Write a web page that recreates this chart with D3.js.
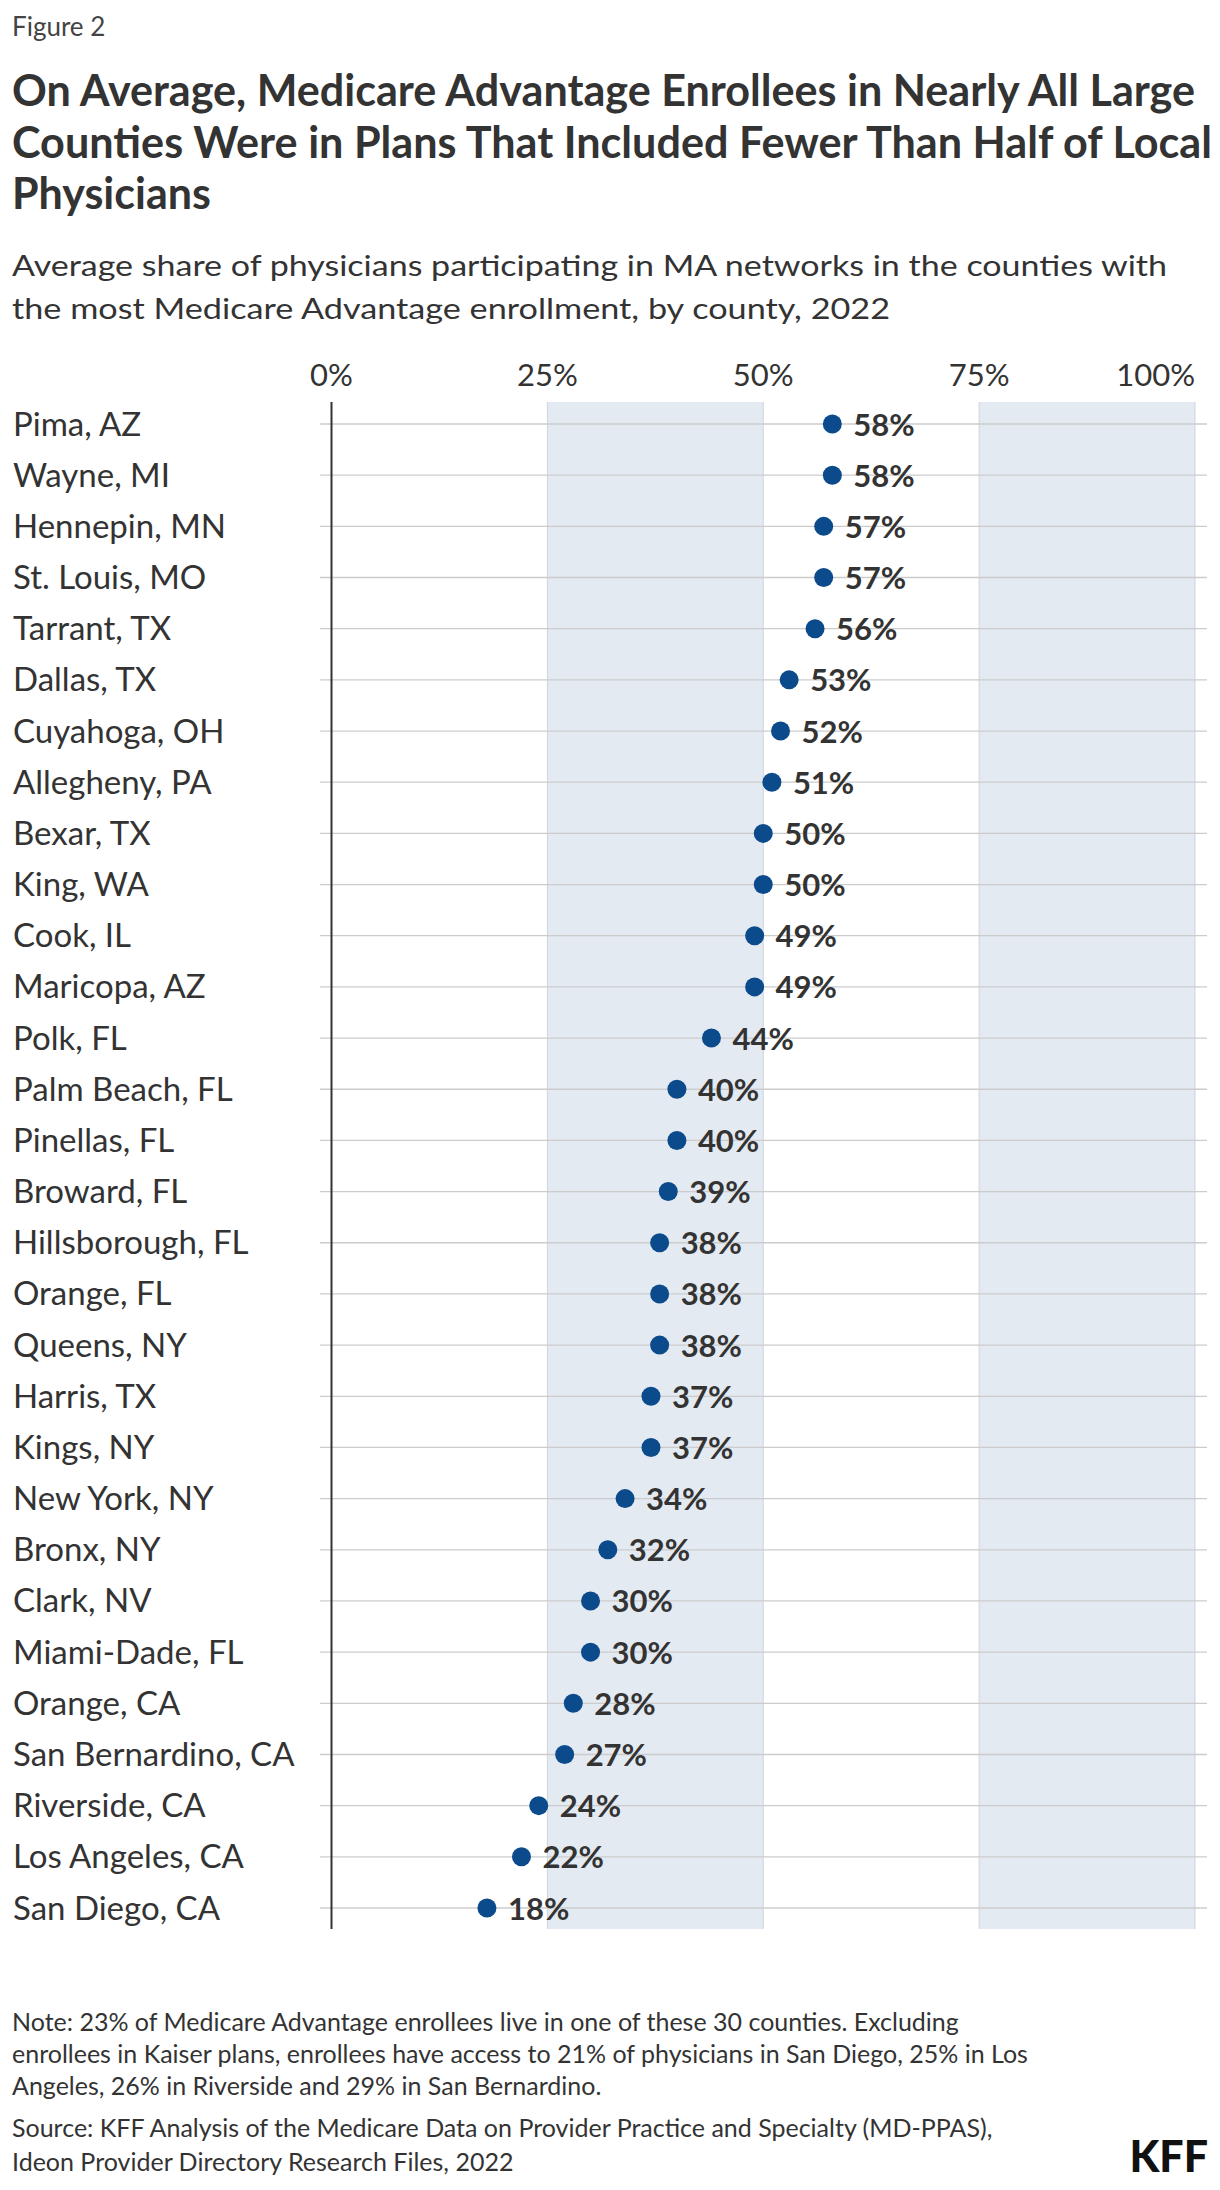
<!DOCTYPE html>
<html><head><meta charset="utf-8">
<script src="https://cdn.jsdelivr.net/npm/d3@7"></script>
<style>
body{margin:0;background:#fff}
svg{display:block}
text{font-family:Lato,"Noto Sans",sans-serif}
</style>
</head><body>
<svg id="chart" width="1220" height="2190"></svg>
<script>
const counties = ["Pima, AZ","Wayne, MI","Hennepin, MN","St. Louis, MO","Tarrant, TX","Dallas, TX","Cuyahoga, OH","Allegheny, PA","Bexar, TX","King, WA","Cook, IL","Maricopa, AZ","Polk, FL","Palm Beach, FL","Pinellas, FL","Broward, FL","Hillsborough, FL","Orange, FL","Queens, NY","Harris, TX","Kings, NY","New York, NY","Bronx, NY","Clark, NV","Miami-Dade, FL","Orange, CA","San Bernardino, CA","Riverside, CA","Los Angeles, CA","San Diego, CA"];
const values = [58,58,57,57,56,53,52,51,50,50,49,49,44,40,40,39,38,38,38,37,37,34,32,30,30,28,27,24,22,18];
const tickValues = [0,25,50,75,100];
const tickLabels = ["0%","25%","50%","75%","100%"];
const shadedRanges = [[25,50],[75,100]];
const figureLabel = "Figure 2";
const titleLines = ["On Average, Medicare Advantage Enrollees in Nearly All Large","Counties Were in Plans That Included Fewer Than Half of Local","Physicians"];
const subtitleLines = ["Average share of physicians participating in MA networks in the counties with","the most Medicare Advantage enrollment, by county, 2022"];
const noteLines = ["Note: 23% of Medicare Advantage enrollees live in one of these 30 counties. Excluding","enrollees in Kaiser plans, enrollees have access to 21% of physicians in San Diego, 25% in Los","Angeles, 26% in Riverside and 29% in San Bernardino."];
const sourceLines = ["Source: KFF Analysis of the Medicare Data on Provider Practice and Specialty (MD-PPAS),","Ideon Provider Directory Research Files, 2022"];
const logoText = "KFF";

const svg = d3.select("#chart");
const textColor = "#333333";
const dotColor = "#0b4a8b";

// Header
svg.append("text").attr("x",12).attr("y",36).attr("font-size",26).attr("fill","#444").text(figureLabel);

const titleTargets = [1183,1200,null];
titleLines.forEach((t,i)=>{
  const el = svg.append("text").attr("x",12).attr("y",106+i*51.5)
    .attr("font-size",43).attr("font-weight",700).attr("fill",textColor).text(t);
  if (titleTargets[i]) el.attr("textLength",titleTargets[i]).attr("lengthAdjust","spacingAndGlyphs");
});
const subTargets = [1155,878];
subtitleLines.forEach((t,i)=>{
  const el = svg.append("text").attr("x",12).attr("y",276+i*43)
    .attr("font-size",29).attr("fill",textColor).text(t);
  const w = el.node().getComputedTextLength();
  if (Math.abs(w-subTargets[i])>8) el.attr("textLength",subTargets[i]).attr("lengthAdjust","spacingAndGlyphs");
});

// Scales
const x = d3.scaleLinear().domain([0,100]).range([331.5,1195]);
const y = d3.scalePoint().domain(counties).range([424,1908]);
const step = y.step();
const plotTop = y(counties[0]) - step*0.43;
const plotBottom = y(counties[counties.length-1]) + step*0.41;

// Shaded bands
svg.append("g").selectAll("rect").data(shadedRanges).join("rect")
  .attr("x",d=>x(d[0])).attr("width",d=>x(d[1])-x(d[0]))
  .attr("y",plotTop).attr("height",plotBottom-plotTop)
  .attr("fill","#e4eaf2");
// Vertical grid lines
svg.append("g").selectAll("line").data(tickValues.filter(v=>v>0)).join("line")
  .attr("x1",d=>x(d)).attr("x2",d=>x(d)).attr("y1",plotTop).attr("y2",plotBottom)
  .attr("stroke","#cfd3d8").attr("stroke-width",1);
// Horizontal grid lines
svg.append("g").selectAll("line").data(counties).join("line")
  .attr("x1",x(0)-11.5).attr("x2",x(100)+12)
  .attr("y1",d=>y(d)).attr("y2",d=>y(d))
  .attr("stroke","#cccccc").attr("stroke-width",1.3);
// Axis line
svg.append("line").attr("x1",x(0)).attr("x2",x(0)).attr("y1",plotTop).attr("y2",plotBottom)
  .attr("stroke","#333").attr("stroke-width",2);

// Top tick labels
svg.append("g").selectAll("text").data(tickValues).join("text")
  .attr("x",d=>x(d)).attr("y",386)
  .attr("text-anchor",(d,i)=>i===tickValues.length-1?"end":"middle")
  .attr("font-size",31).attr("fill",textColor)
  .text((d,i)=>tickLabels[i]);

// County labels
svg.append("g").selectAll("text").data(counties).join("text")
  .attr("x",13).attr("y",d=>y(d)+11.5)
  .attr("font-size",33).attr("fill",textColor).text(d=>d);

// Dots
svg.append("g").selectAll("circle").data(values).join("circle")
  .attr("cx",d=>x(d)).attr("cy",(d,i)=>y(counties[i])).attr("r",9.5)
  .attr("fill",dotColor);
// Value labels
svg.append("g").selectAll("text").data(values).join("text")
  .attr("x",d=>x(d)+21).attr("y",(d,i)=>y(counties[i])+11.5)
  .attr("font-size",31).attr("font-weight",700).attr("fill",textColor)
  .text(d=>d+"%");

// Footer
noteLines.forEach((t,i)=>{
  svg.append("text").attr("x",12).attr("y",2031+i*32).attr("font-size",25).attr("fill",textColor).text(t);
});
sourceLines.forEach((t,i)=>{
  svg.append("text").attr("x",12).attr("y",2137+i*34).attr("font-size",25).attr("fill",textColor).text(t);
});
svg.append("text").attr("x",1208).attr("y",2172).attr("text-anchor","end")
  .attr("font-size",43).attr("font-weight",900).attr("fill","#111").text(logoText);
</script>
</body></html>
